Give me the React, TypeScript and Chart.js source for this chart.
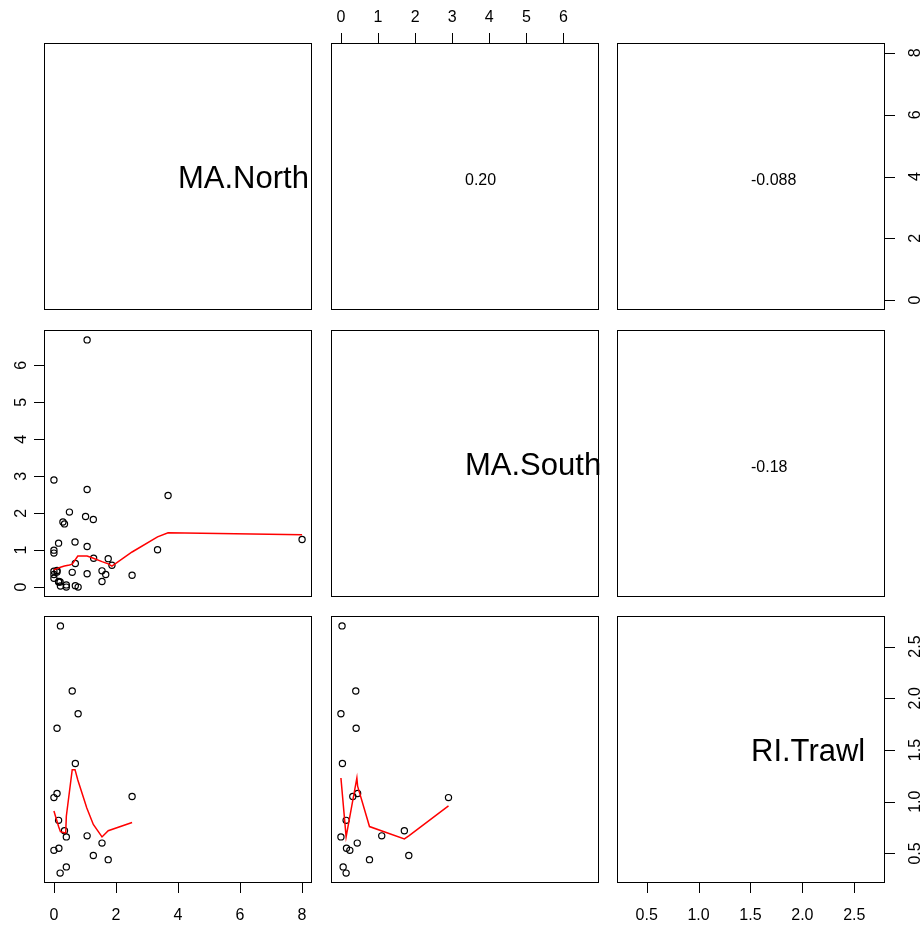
import React, { useEffect, useRef } from "react";
import { Chart, registerables } from "chart.js";

Chart.register(...registerables);

const W = 923;
const H = 925;

// ---- data (one entry per observation; null = missing) ----
const varNames = ["MA.North", "MA.South", "RI.Trawl"];
const maNorth = [
  0.21, 0.59, 0.78, 0.10, 0.69, 0.10, 0.00, 2.52, 0.15, 0.34, 0.40, 1.07, 1.55, 0.00, 0.16, 1.27, 1.75, 0.40, 0.20,
  1.07, 1.07, 3.68, 0.50, 1.02, 0.29, 0.15, 0.68, 0.00, 0.00, 3.34, 8.00, 1.28, 1.87, 0.69, 0.00, 0.00, 1.07, 1.67, 1.55,
];
const maSouth = [
  0.03, 0.40, 0.00, 0.41, 0.04, 0.45, 2.90, 0.32, 0.14, 1.71, 0.00, 1.10, 0.44, 0.24, 0.15, 1.83, 0.77, 0.06, 0.14,
  6.69, 2.64, 2.48, 2.03, 1.91, 1.76, 1.19, 1.22, 1.00, 0.92, 1.01, 1.29, 0.78, 0.59, 0.64, 0.43, 0.34, 0.36, 0.34, 0.15,
];
const riTrawl: (number | null)[] = [
  2.70, 2.07, 1.85, 1.71, 1.37, 1.08, 1.04, 1.05, 0.82, 0.72, 0.66, 0.67, 0.60, 0.53, 0.55, 0.48, 0.44, 0.37, 0.31,
  null, null, null, null, null, null, null, null, null, null, null, null, null, null, null, null, null, null, null, null,
];

// smoother (red) lines
const smoothNorthSouthX = [0, 0.10, 0.21, 0.34, 0.50, 0.59, 0.77, 1.07, 1.27, 1.55, 1.75, 1.87, 2.52, 3.34, 3.68, 8.0];
const smoothNorthSouthY = [0.47, 0.50, 0.54, 0.57, 0.60, 0.62, 0.84, 0.84, 0.78, 0.69, 0.63, 0.57, 0.95, 1.36, 1.47, 1.42];
const smoothNorthTrawlX = [0, 0.15, 0.21, 0.34, 0.38, 0.40, 0.59, 0.68, 0.77, 1.06, 1.27, 1.55, 1.75, 2.52];
const smoothNorthTrawlY = [0.91, 0.76, 0.71, 0.70, 0.70, 0.86, 1.31, 1.31, 1.21, 0.94, 0.78, 0.66, 0.72, 0.80];
const smoothSouthTrawlX = [0, 0.14, 0.43, 0.45, 0.77, 1.71, 1.83, 2.90];
const smoothSouthTrawlY = [1.23, 0.66, 1.23, 1.15, 0.76, 0.64, 0.67, 0.96];

// correlation texts (upper panels)
const corNorthSouth = "0.20";
const corNorthTrawl = "-0.088";
const corSouthTrawl = "-0.18";

// tick labels
const northTickLabels = ["0", "2", "4", "6", "8"];
const southTickLabels = ["0", "1", "2", "3", "4", "5", "6"];
const trawlTickLabels = ["0.5", "1.0", "1.5", "2.0", "2.5"];

// ---- layout ----
const colLeft = [44, 331, 617];
const rowTop = [43, 330, 616];
const PW = 268;
const PH = 267;
const FONT = "'Liberation Sans', Arial, Helvetica, sans-serif";

const vars: (number | null)[][] = [maNorth, maSouth, riTrawl];
const tickLabelSets = [northTickLabels, southTickLabels, trawlTickLabels];

function rangeOf(values: (number | null)[]): [number, number] {
  const v = values.filter((d): d is number => d !== null);
  const lo = Math.min(...v);
  const hi = Math.max(...v);
  const pad = (hi - lo) * 0.04;
  return [lo - pad, hi + pad];
}

type Side = "top" | "bottom" | "left" | "right";
type Spec = {
  r: number;
  c: number;
  kind: "diag" | "upper" | "lower";
  text?: string;
  axes: Side[];
  smooth?: [number[], number[]];
};

const specs: Spec[] = [
  { r: 0, c: 0, kind: "diag", text: varNames[0], axes: [] },
  { r: 0, c: 1, kind: "upper", text: corNorthSouth, axes: ["top"] },
  { r: 0, c: 2, kind: "upper", text: corNorthTrawl, axes: ["right"] },
  { r: 1, c: 0, kind: "lower", axes: ["left"], smooth: [smoothNorthSouthX, smoothNorthSouthY] },
  { r: 1, c: 1, kind: "diag", text: varNames[1], axes: [] },
  { r: 1, c: 2, kind: "upper", text: corSouthTrawl, axes: [] },
  { r: 2, c: 0, kind: "lower", axes: ["bottom"], smooth: [smoothNorthTrawlX, smoothNorthTrawlY] },
  { r: 2, c: 1, kind: "lower", axes: [], smooth: [smoothSouthTrawlX, smoothSouthTrawlY] },
  { r: 2, c: 2, kind: "diag", text: varNames[2], axes: ["bottom", "right"] },
];

function makePlugin(spec: Spec) {
  return {
    id: "pairsPanel" + spec.r + spec.c,
    afterDraw(chart: any) {
      const ctx: CanvasRenderingContext2D = chart.ctx;
      const a = chart.chartArea;
      const xs = chart.scales.x;
      const ys = chart.scales.y;
      ctx.save();
      // box
      ctx.strokeStyle = "#000";
      ctx.lineWidth = 1;
      ctx.strokeRect(a.left + 0.5, a.top + 0.5, a.right - a.left - 1, a.bottom - a.top - 1);
      ctx.fillStyle = "#000";
      const cx = (a.left + a.right) / 2;
      const cy = (a.top + a.bottom) / 2;
      if (spec.kind === "diag" && spec.text) {
        ctx.font = `31px ${FONT}`;
        ctx.textAlign = "left";
        ctx.textBaseline = "alphabetic";
        ctx.fillText(spec.text, cx, cy + 11);
      } else if (spec.kind === "upper" && spec.text) {
        ctx.font = `16px ${FONT}`;
        ctx.textAlign = "left";
        ctx.textBaseline = "alphabetic";
        ctx.fillText(spec.text, cx, cy + 8.5);
      }
      // axes
      const TL = 10.5;
      ctx.font = `16px ${FONT}`;
      for (const side of spec.axes) {
        const horiz = side === "top" || side === "bottom";
        const labels = horiz ? tickLabelSets[spec.c] : tickLabelSets[spec.r];
        const scale = horiz ? xs : ys;
        ctx.beginPath();
        for (const lab of labels) {
          const p = Math.round(scale.getPixelForValue(Number(lab))) + 0.5;
          if (side === "bottom") {
            ctx.moveTo(p, a.bottom - 0.5);
            ctx.lineTo(p, a.bottom - 0.5 + TL);
          } else if (side === "top") {
            ctx.moveTo(p, a.top + 0.5);
            ctx.lineTo(p, a.top + 0.5 - TL);
          } else if (side === "left") {
            ctx.moveTo(a.left + 0.5, p);
            ctx.lineTo(a.left + 0.5 - TL, p);
          } else {
            ctx.moveTo(a.right - 0.5, p);
            ctx.lineTo(a.right - 0.5 + TL, p);
          }
        }
        ctx.stroke();
        for (const lab of labels) {
          const p = scale.getPixelForValue(Number(lab));
          ctx.textAlign = "center";
          ctx.textBaseline = "alphabetic";
          if (side === "bottom") {
            ctx.fillText(lab, p, a.bottom + 37);
          } else if (side === "top") {
            ctx.fillText(lab, p, a.top - 21);
          } else {
            const bx = side === "left" ? a.left - 18.5 : a.right + 34.5;
            ctx.save();
            ctx.translate(bx, p);
            ctx.rotate(-Math.PI / 2);
            ctx.fillText(lab, 0, 0);
            ctx.restore();
          }
        }
      }
      ctx.restore();
    },
  };
}

function buildConfig(spec: Spec): any {
  const [xmin, xmax] = rangeOf(vars[spec.c]);
  const [ymin, ymax] = rangeOf(vars[spec.r]);
  const datasets: any[] = [];
  if (spec.kind === "lower") {
    const xv = vars[spec.c];
    const yv = vars[spec.r];
    const pts: { x: number; y: number }[] = [];
    for (let i = 0; i < xv.length; i++) {
      const x = xv[i];
      const y = yv[i];
      if (x !== null && y !== null) pts.push({ x, y });
    }
    datasets.push({
      data: pts,
      order: 1,
      pointStyle: "circle",
      pointRadius: 3.1,
      pointBorderWidth: 1.2,
      pointBorderColor: "#000",
      pointBackgroundColor: "rgba(0,0,0,0)",
      showLine: false,
    });
    if (spec.smooth) {
      const [sx, sy] = spec.smooth;
      datasets.push({
        data: sx.map((x, i) => ({ x, y: sy[i] })),
        order: 0,
        showLine: true,
        borderColor: "#ff0000",
        borderWidth: 1.5,
        pointRadius: 0,
        tension: 0,
        fill: false,
      });
    }
  }
  const left = colLeft[spec.c];
  const top = rowTop[spec.r];
  return {
    type: "scatter",
    data: { datasets },
    options: {
      responsive: false,
      animation: false,
      events: [],
      devicePixelRatio: 1,
      layout: {
        padding: { left, top, right: W - (left + PW), bottom: H - (top + PH) },
      },
      scales: {
        x: { type: "linear", min: xmin, max: xmax, display: false },
        y: { type: "linear", min: ymin, max: ymax, display: false },
      },
      plugins: { legend: { display: false }, tooltip: { enabled: false } },
      clip: false,
    },
    plugins: [makePlugin(spec)],
  };
}

function Panel({ spec }: { spec: Spec }) {
  const ref = useRef<HTMLCanvasElement>(null);
  useEffect(() => {
    const chart = new Chart(ref.current as HTMLCanvasElement, buildConfig(spec));
    return () => chart.destroy();
  }, [spec]);
  return (
    <canvas
      ref={ref}
      width={W}
      height={H}
      style={{ position: "absolute", left: 0, top: 0, width: W, height: H }}
    />
  );
}

export default function App() {
  return (
    <div style={{ position: "absolute", left: 0, top: 0, width: W, height: H, background: "#fff" }}>
      {specs.map((s) => (
        <Panel key={`${s.r}-${s.c}`} spec={s} />
      ))}
    </div>
  );
}
